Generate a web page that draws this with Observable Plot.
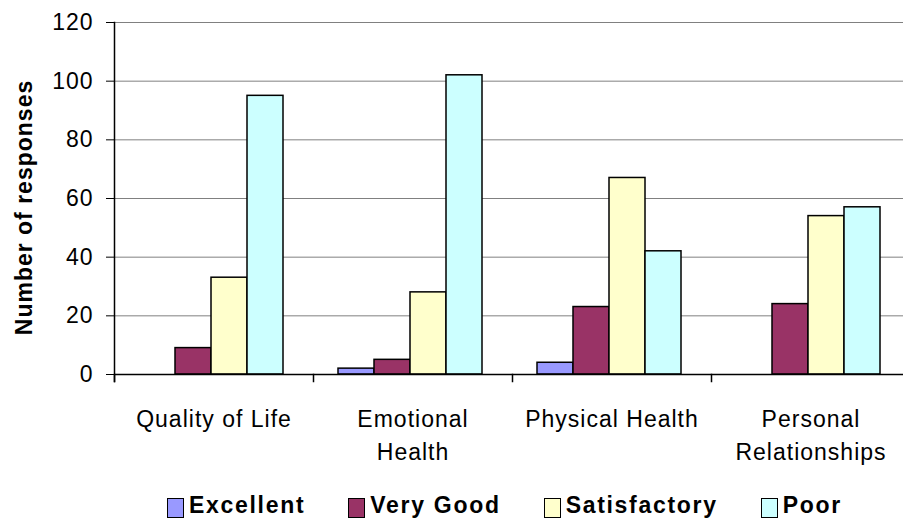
<!DOCTYPE html>
<html>
<head>
<meta charset="utf-8">
<script src="https://cdn.jsdelivr.net/npm/d3@7"></script>
<script src="https://cdn.jsdelivr.net/npm/@observablehq/plot@0.6"></script>
<style>
  html, body { margin: 0; padding: 0; background: #fff; overflow: hidden; }
  #chart svg text { letter-spacing: 1px; }
  #legend { width: 903px; height: 47px; box-sizing: border-box; padding-top: 20px; padding-left: 167px;
    display: flex; align-items: flex-start; font-family: 'Liberation Sans', Arial, sans-serif;
    font-weight: bold; font-size: 23px; letter-spacing: 1.7px; color: #000; }
  #legend .item { display: flex; align-items: flex-start; margin-right: 43px; }
  #legend .sw { width: 15px; height: 18px; border: 1px solid #000; margin-top: 4px; margin-right: 5px; }
  #legend .lbl { line-height: 23px; }
</style>
</head>
<body>
<div id="chart"></div>
<div id="legend"></div>
<script>
const categories = ["Quality of Life", "Emotional Health", "Physical Health", "Personal Relationships"];
const categoryLabels = ["Quality of Life", "Emotional\nHealth", "Physical Health", "Personal\nRelationships"];
const series = ["Excellent", "Very Good", "Satisfactory", "Poor"];
const excellent = [0, 2, 4, 0];
const veryGood = [9, 5, 23, 24];
const satisfactory = [33, 28, 67, 54];
const poor = [95, 102, 42, 57];
const yTicks = [0, 20, 40, 60, 80, 100, 120];
const colors = ["#9999FF", "#993366", "#FFFFCC", "#CCFFFF"];
const yLabel = "Number of responses";

const seriesValues = [excellent, veryGood, satisfactory, poor];
const data = [];
categories.forEach((c, i) => {
  series.forEach((s, j) => {
    data.push({category: c, series: s, value: seriesValues[j][i]});
  });
});
const labelOf = new Map(categories.map((c, i) => [c, categoryLabels[i]]));

const chart = Plot.plot({
  width: 903,
  height: 474,
  marginLeft: 113,
  marginRight: -7,
  marginTop: 22,
  marginBottom: 100,
  style: {fontFamily: "'Liberation Sans', Arial, sans-serif", fontSize: "23px", color: "#000", background: "#fff"},
  fx: {domain: categories, padding: 0, label: null},
  x: {domain: series, paddingInner: 0, paddingOuter: 0.73, align: 0.45, axis: null},
  y: {domain: [0, 120], label: null},
  color: {domain: series, range: colors},
  marks: [
    Plot.gridY(yTicks, {stroke: "#808080", strokeOpacity: 1, strokeWidth: 1}),
    Plot.barY(data.filter(d => d.value > 0), {fx: "category", x: "series", y: "value", fill: "series", stroke: "#000", strokeWidth: 1.5}),
    Plot.ruleY([0], {stroke: "#000", strokeWidth: 1.5}),
    Plot.frame({anchor: "left", facetAnchor: "left", insetBottom: -7, stroke: "#000", strokeWidth: 1.5}),
    Plot.frame({anchor: "left", insetTop: 352, insetBottom: -7, stroke: "#000", strokeWidth: 1.5}),
    Plot.axisY(yTicks, {tickSize: 8, tickPadding: 13, label: null, stroke: "#000"}),
    Plot.axisFx({anchor: "bottom", tickSize: 0, tickPadding: 29, tickFormat: d => labelOf.get(d), lineHeight: 1.43, label: null}),
    Plot.text([yLabel], {frameAnchor: "left", facetAnchor: "left", rotate: -90, textAnchor: "middle", lineAnchor: "middle", dx: -90, dy: 9, fontWeight: "bold", fontSize: 23})
  ]
});
document.getElementById("chart").appendChild(chart);

const legend = document.getElementById("legend");
series.forEach((s, i) => {
  const item = document.createElement("div");
  item.className = "item";
  const sw = document.createElement("div");
  sw.className = "sw";
  sw.style.background = colors[i];
  const lbl = document.createElement("span");
  lbl.className = "lbl";
  lbl.textContent = s;
  item.appendChild(sw);
  item.appendChild(lbl);
  legend.appendChild(item);
});
</script>
</body>
</html>
